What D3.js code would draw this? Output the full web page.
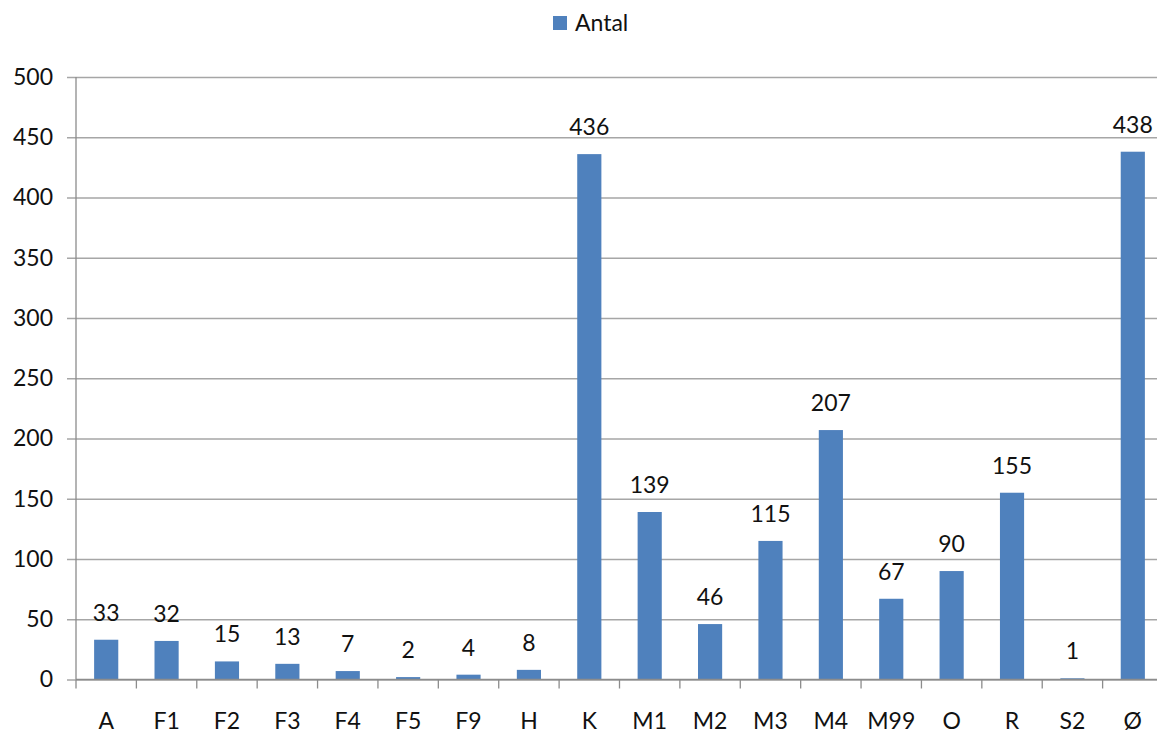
<!DOCTYPE html>
<html>
<head>
<meta charset="utf-8">
<script src="https://cdn.jsdelivr.net/npm/d3@7/dist/d3.min.js"></script>
<style>
  html, body { margin: 0; padding: 0; background: #fff; }
  svg { display: block; font-family: Lato, "Liberation Sans", sans-serif; }
</style>
</head>
<body>
<svg id="chart" width="1157" height="733"></svg>
<script>
// Category codes and counts
const categories = ["A", "F1", "F2", "F3", "F4", "F5", "F9", "H", "K", "M1", "M2", "M3", "M4", "M99", "O", "R", "S2", "Ø"];
const antal = [33, 32, 15, 13, 7, 2, 4, 8, 436, 139, 46, 115, 207, 67, 90, 155, 1, 438];
const yTicks = [0, 50, 100, 150, 200, 250, 300, 350, 400, 450, 500];
const seriesName = "Antal";

const svg = d3.select("#chart");
const plotLeft = 76, plotRight = 1163, plotTop = 77, plotBottom = 679.5;
const barColor = "#4f81bd";
const gridColor = "#a6a6a6";
const axisColor = "#8c8c8c";

const x = d3.scaleBand()
  .domain(categories)
  .range([plotLeft, plotRight])
  .paddingInner(0.6)
  .paddingOuter(0.3);

const y = d3.scaleLinear().domain([0, 500]).range([plotBottom, plotTop]);

// Horizontal gridlines with short ticks left of the axis
const yAxis = d3.axisLeft(y)
  .tickValues(yTicks)
  .tickSize(plotRight - plotLeft + 9)
  .tickPadding(14)
  .tickFormat(d3.format("d"));

const gy = svg.append("g")
  .attr("transform", `translate(${plotRight},0)`)
  .call(yAxis);
gy.select(".domain").remove();
gy.selectAll(".tick line").attr("stroke", gridColor).attr("stroke-width", 1.3);
gy.selectAll(".tick text")
  .attr("fill", "#111")
  .style("font-size", "23px")
  .style("font-family", "Lato, 'Liberation Sans', sans-serif");

// Vertical axis line
svg.append("line")
  .attr("x1", plotLeft).attr("x2", plotLeft)
  .attr("y1", plotTop).attr("y2", plotBottom)
  .attr("stroke", axisColor).attr("stroke-width", 1.3);

// Bars
svg.append("g").selectAll("rect")
  .data(categories)
  .join("rect")
  .attr("x", d => x(d))
  .attr("width", x.bandwidth())
  .attr("y", (d, i) => y(antal[i]))
  .attr("height", (d, i) => plotBottom - y(antal[i]))
  .attr("fill", barColor);

// Horizontal axis with tick marks on category boundaries
const boundaries = categories.map(d => x(d) - x.step() * x.paddingInner() / 2);
boundaries.push(plotRight);
svg.append("line")
  .attr("x1", plotLeft).attr("x2", plotRight)
  .attr("y1", plotBottom).attr("y2", plotBottom)
  .attr("stroke", axisColor).attr("stroke-width", 1.3);
svg.append("g").selectAll("line")
  .data(boundaries)
  .join("line")
  .attr("x1", d => d).attr("x2", d => d)
  .attr("y1", plotBottom).attr("y2", plotBottom + 9)
  .attr("stroke", axisColor).attr("stroke-width", 1.3);

// Category labels
svg.append("g").selectAll("text")
  .data(categories)
  .join("text")
  .attr("x", d => x(d) + x.bandwidth() / 2)
  .attr("y", 729)
  .attr("text-anchor", "middle")
  .attr("fill", "#111")
  .style("font-size", "23px")
  .text(d => d);

// Value labels above bars
svg.append("g").selectAll("text")
  .data(categories)
  .join("text")
  .attr("x", d => x(d) + x.bandwidth() / 2)
  .attr("y", (d, i) => y(antal[i]) - 19)
  .attr("text-anchor", "middle")
  .attr("fill", "#111")
  .style("font-size", "23px")
  .text((d, i) => antal[i]);

// Legend
const legend = svg.append("g");
legend.append("rect")
  .attr("x", 553).attr("y", 16)
  .attr("width", 14).attr("height", 14)
  .attr("fill", barColor);
legend.append("text")
  .attr("x", 575).attr("y", 31)
  .attr("fill", "#111")
  .style("font-size", "23px")
  .text(seriesName);
</script>
</body>
</html>
